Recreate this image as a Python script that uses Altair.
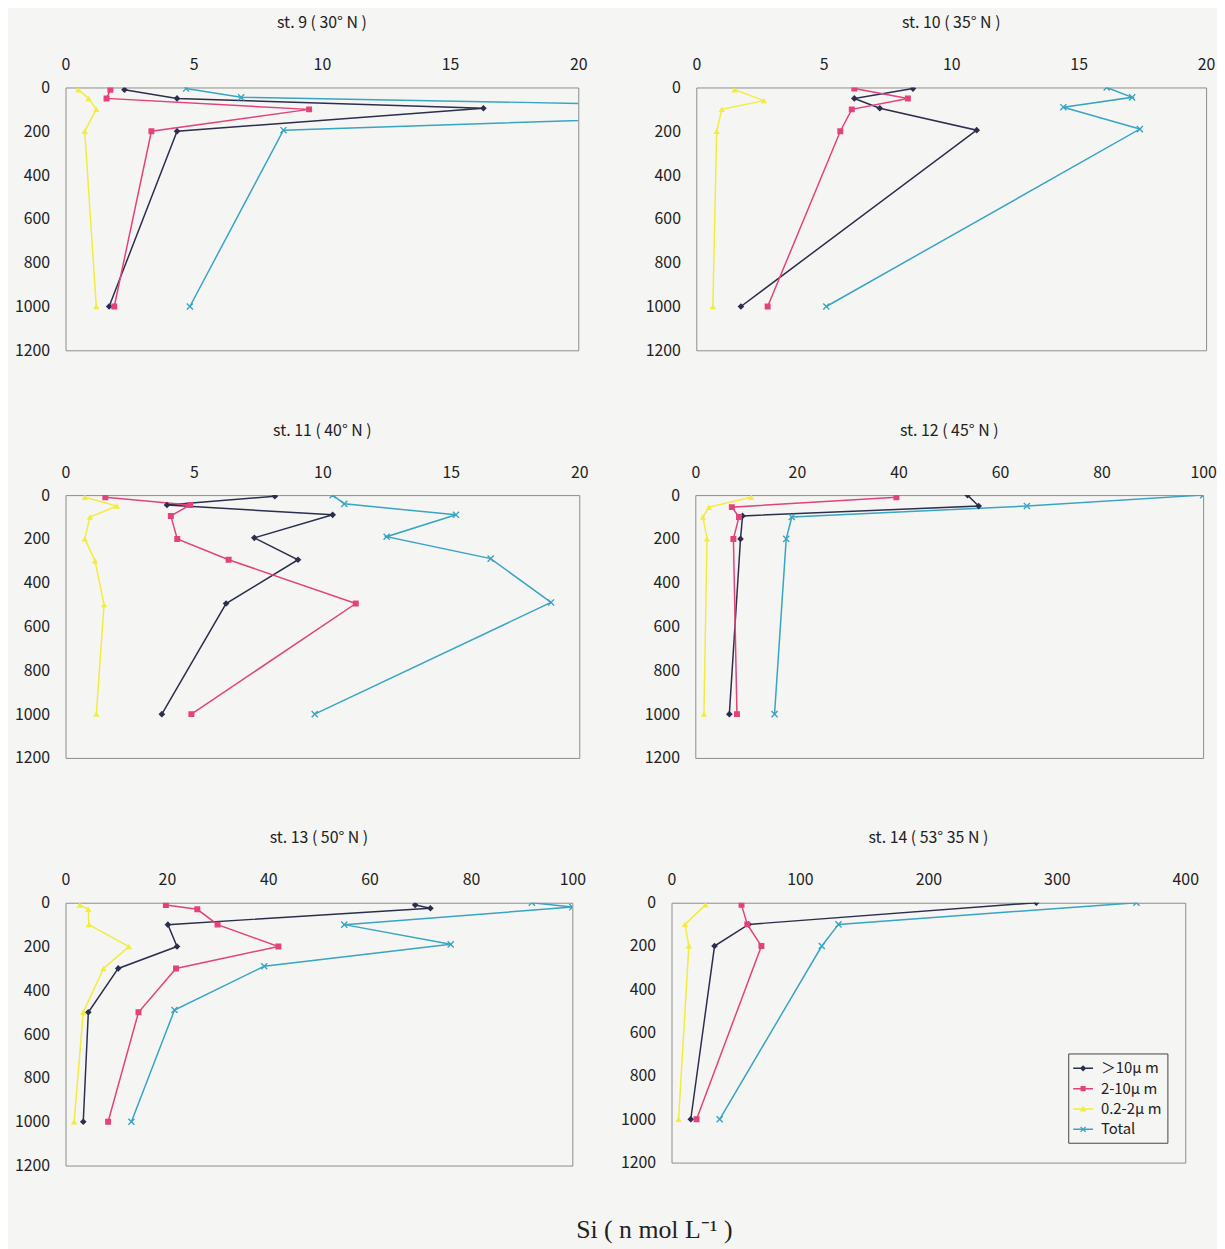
import altair as alt
import pandas as pd

FONT = "Noto Sans CJK JP"
TEXT = "#222222"
BG = "#f5f5f3"

SERIES = ["＞10μ m", "2-10μ m", "0.2-2μ m", "Total"]
COLORS = ["#2b2e4c", "#e3427a", "#f2ec3a", "#37a5c3"]
DEPTH_TICKS = [0, 200, 400, 600, 800, 1000, 1200]

# ---------------- st. 9 (30° N) ----------------
st9_gt10_depth = [10, 50, 95, 200, 1000]
st9_gt10_si = [2.3, 4.35, 16.3, 4.35, 1.7]
st9_mid_depth = [10, 50, 100, 200, 1000]
st9_mid_si = [1.75, 1.6, 9.5, 3.35, 1.9]
st9_small_depth = [10, 50, 100, 200, 1000]
st9_small_si = [0.5, 0.9, 1.2, 0.75, 1.2]
st9_total_depth = [5, 45, 100, 195, 1000]
st9_total_si = [4.7, 6.85, 33.0, 8.5, 4.85]

# ---------------- st. 10 (35° N) ----------------
st10_gt10_depth = [5, 50, 95, 195, 1000]
st10_gt10_si = [8.5, 6.2, 7.2, 11.0, 1.75]
st10_mid_depth = [5, 50, 100, 200, 1000]
st10_mid_si = [6.2, 8.3, 6.1, 5.65, 2.8]
st10_small_depth = [10, 60, 100, 200, 1000]
st10_small_si = [1.5, 2.65, 1.0, 0.8, 0.65]
st10_total_depth = [0, 45, 90, 190, 1000]
st10_total_si = [16.1, 17.1, 14.4, 17.4, 5.1]

# ---------------- st. 11 (40° N) ----------------
st11_gt10_depth = [5, 45, 90, 195, 295, 495, 1000]
st11_gt10_si = [8.15, 3.95, 10.4, 7.35, 9.05, 6.25, 3.75]
st11_mid_depth = [10, 45, 95, 200, 295, 495, 1000]
st11_mid_si = [1.55, 4.85, 4.1, 4.35, 6.35, 11.3, 4.9]
st11_small_depth = [10, 50, 100, 200, 300, 500, 1000]
st11_small_si = [0.75, 2.0, 0.95, 0.75, 1.15, 1.5, 1.2]
st11_total_depth = [0, 40, 90, 190, 290, 490, 1000]
st11_total_si = [10.4, 10.85, 15.2, 12.5, 16.55, 18.9, 9.7]

# ---------------- st. 12 (45° N) ----------------
st12_gt10_depth = [0, 50, 95, 200, 1000]
st12_gt10_si = [53.6, 55.8, 9.3, 8.9, 6.7]
st12_mid_depth = [10, 55, 100, 200, 1000]
st12_mid_si = [39.6, 7.2, 8.6, 7.5, 8.2]
st12_small_depth = [10, 55, 100, 200, 1000]
st12_small_si = [11.0, 2.7, 1.5, 2.3, 1.7]
st12_total_depth = [0, 50, 100, 200, 1000]
st12_total_si = [100.0, 65.3, 19.0, 17.9, 15.6]

# ---------------- st. 13 (50° N) ----------------
st13_gt10_depth = [10, 25, 100, 200, 300, 500, 1000]
st13_gt10_si = [69.0, 72.0, 20.2, 22.0, 10.4, 4.5, 3.5]
st13_mid_depth = [10, 30, 100, 200, 300, 500, 1000]
st13_mid_si = [19.8, 26.0, 30.0, 42.0, 21.8, 14.4, 8.4]
st13_small_depth = [10, 30, 100, 200, 300, 500, 1000]
st13_small_si = [2.8, 4.5, 4.6, 12.5, 7.5, 3.5, 1.7]
st13_total_depth = [0, 20, 100, 190, 290, 490, 1000]
st13_total_si = [92.0, 100.0, 55.0, 76.0, 39.2, 21.5, 13.0]

# ---------------- st. 14 (53° 35 N) ----------------
st14_gt10_depth = [0, 100, 200, 1000]
st14_gt10_si = [284.0, 60.0, 33.5, 15.0]
st14_mid_depth = [10, 100, 200, 1000]
st14_mid_si = [54.5, 59.0, 70.0, 19.5]
st14_small_depth = [10, 100, 200, 1000]
st14_small_si = [26.5, 10.5, 13.5, 5.5]
st14_total_depth = [0, 100, 200, 1000]
st14_total_si = [362.0, 130.0, 117.0, 37.5]

TITLES = ["st. 9 ( 30°  N )", "st. 10 ( 35°  N )", "st. 11 ( 40°  N )",
          "st. 12 ( 45°  N )", "st. 13 ( 50°  N )", "st. 14 ( 53°  35 N )"]
X_TICKS = [[0, 5, 10, 15, 20], [0, 5, 10, 15, 20], [0, 5, 10, 15, 20],
           [0, 20, 40, 60, 80, 100], [0, 20, 40, 60, 80, 100], [0, 100, 200, 300, 400]]

STATION_DATA = [
    [(st9_gt10_depth, st9_gt10_si), (st9_mid_depth, st9_mid_si),
     (st9_small_depth, st9_small_si), (st9_total_depth, st9_total_si)],
    [(st10_gt10_depth, st10_gt10_si), (st10_mid_depth, st10_mid_si),
     (st10_small_depth, st10_small_si), (st10_total_depth, st10_total_si)],
    [(st11_gt10_depth, st11_gt10_si), (st11_mid_depth, st11_mid_si),
     (st11_small_depth, st11_small_si), (st11_total_depth, st11_total_si)],
    [(st12_gt10_depth, st12_gt10_si), (st12_mid_depth, st12_mid_si),
     (st12_small_depth, st12_small_si), (st12_total_depth, st12_total_si)],
    [(st13_gt10_depth, st13_gt10_si), (st13_mid_depth, st13_mid_si),
     (st13_small_depth, st13_small_si), (st13_total_depth, st13_total_si)],
    [(st14_gt10_depth, st14_gt10_si), (st14_mid_depth, st14_mid_si),
     (st14_small_depth, st14_small_si), (st14_total_depth, st14_total_si)],
]

# layout (pixels): plot width, plot height, y-axis extent
LAYOUT = [(517, 265, 53), (514, 265, 53), (518, 265, 54),
          (512, 265, 53), (511, 265, 57), (518, 262, 53)]

X_PATH = "M-1,-1L1,1M-1,1L1,-1"
PLOT_MARKS = [("diamond", True, 45), ("square", True, 36),
              ("triangle-up", True, 40), (X_PATH, False, 38)]

LINE_SEG = "M-1,-0.075H1V0.075H-1Z"
LEGEND_SHAPES = [
    LINE_SEG + "M0,-0.32L0.32,0L0,0.32L-0.32,0Z",
    LINE_SEG + "M-0.26,-0.26H0.26V0.26H-0.26Z",
    LINE_SEG + "M0,-0.32L0.32,0.26H-0.32Z",
    LINE_SEG + "M-0.3,-0.21L-0.21,-0.3L0,-0.09L0.21,-0.3L0.3,-0.21L0.09,0L0.3,0.21L0.21,0.3L0,0.09L-0.21,0.3L-0.3,0.21L-0.09,0Z",
]


def make_panel(i, legend=False):
    rows = []
    for name, (depths, vals) in zip(SERIES, STATION_DATA[i]):
        for k, (d, v) in enumerate(zip(depths, vals)):
            rows.append({"series": name, "depth": d, "si": v, "order": k})
    df = pd.DataFrame(rows)
    w, h, ext = LAYOUT[i]
    ticks = X_TICKS[i]
    x = alt.X("si:Q", scale=alt.Scale(domain=[0, ticks[-1]], nice=False),
              axis=alt.Axis(orient="top", values=ticks, title=None, grid=False,
                            domain=False, ticks=False, labelPadding=15,
                            labelFont=FONT, labelFontSize=16, labelColor=TEXT,
                            labelFlush=False, format="d"))
    y = alt.Y("depth:Q", scale=alt.Scale(domain=[0, 1200], reverse=True, nice=False),
              axis=alt.Axis(values=DEPTH_TICKS, title=None, grid=False,
                            domain=False, ticks=False, labelPadding=16,
                            minExtent=ext, maxExtent=ext, format="d",
                            labelFont=FONT, labelFontSize=16, labelColor=TEXT,
                            labelFlush=False))
    base = alt.Chart(df).encode(x=x, y=y)
    layers = []
    for name, col in zip(SERIES, COLORS):
        layers.append(
            base.transform_filter(alt.datum.series == name).mark_line(
                clip=True, strokeWidth=1.5, color=col).encode(order="order:Q"))
    for name, col, (shape, filled, size) in zip(SERIES, COLORS, PLOT_MARKS):
        layers.append(
            base.transform_filter(alt.datum.series == name).mark_point(
                shape=shape, filled=filled, size=size, color=col, opacity=1,
                strokeWidth=1.4, clip=True))
    if legend:
        leg_props = dict(title=None, orient="none", legendX=1011, legendY=974,
                         strokeColor="#444", padding=5, fillColor=BG,
                         symbolSize=400, symbolStrokeWidth=0,
                         labelFont=FONT, labelFontSize=15, labelColor="#222",
                         rowPadding=2.5, labelOffset=8)
        layers.append(
            alt.Chart(df).transform_filter("false").mark_point(filled=True, opacity=1).encode(
                x=x, y=y,
                color=alt.Color("series:N", scale=alt.Scale(domain=SERIES, range=COLORS),
                                legend=alt.Legend(**leg_props)),
                shape=alt.Shape("series:N", scale=alt.Scale(domain=SERIES, range=LEGEND_SHAPES),
                                legend=alt.Legend(**leg_props))))
    return alt.layer(*layers).properties(
        width=w, height=h,
        title=alt.TitleParams(TITLES[i], font=FONT, fontSize=16, fontWeight="normal",
                              color=TEXT, offset=26))


chart = alt.vconcat(
    alt.hconcat(make_panel(0), make_panel(1), spacing=55),
    alt.hconcat(make_panel(2), make_panel(3), spacing=53),
    alt.hconcat(make_panel(4), make_panel(5, legend=True), spacing=32),
    spacing=63,
).properties(
    title=alt.TitleParams("Si ( n mol L⁻¹ )", orient="bottom", anchor="middle",
                          font="Liberation Serif", fontSize=26, fontWeight="normal",
                          color="#222", offset=44, dx=42),
    padding={"left": 0, "top": 1, "right": 0, "bottom": 0},
    background=BG,
).configure_view(stroke="#8c8c8c", strokeWidth=1)

chart.save("out.html", embed_options={"renderer": "svg", "actions": False})
